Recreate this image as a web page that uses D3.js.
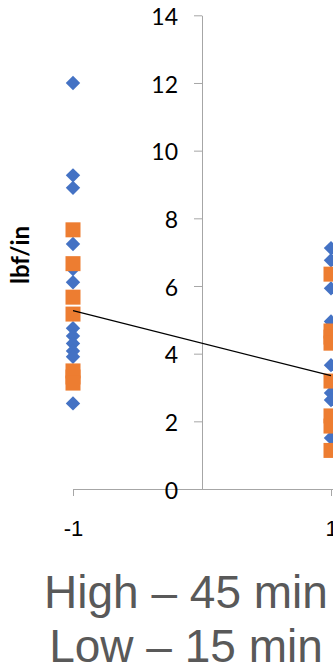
<!DOCTYPE html>
<html>
<head>
<meta charset="utf-8">
<script src="https://d3js.org/d3.v7.min.js"></script>
<style>
    body { margin: 0; background: #fff; overflow: hidden; }
    .y-axis text { font-family: Lato, "Open Sans", sans-serif; font-size: 23px; fill: #000; }
    .x-axis text { font-family: "Liberation Sans", Arial, sans-serif; font-size: 22px; fill: #000; }
    .axis path, .axis line { stroke: #a6a6a6; }
    .axis-title { font-family: Lato, "Open Sans", sans-serif; font-weight: bold; font-size: 24px; fill: #000; }
    .factor-label { font-family: "Liberation Sans", Arial, sans-serif; font-size: 46px; fill: #595959; }
</style>
</head>
<body>
<div id="vis"></div>
<script>
const width = 333, height = 669;

// Data (x = coded factor level, -1 / 1)
const levels = [-1, 1];
const blueLeft = [12.0, 9.27, 8.9, 7.24, 6.5, 6.11, 4.75, 4.52, 4.30, 4.08, 3.91, 2.53];
const blueRight = [7.12, 6.76, 5.93, 4.95, 3.66, 2.84, 2.63, 1.51];
const orangeLeft = [7.66, 6.66, 5.67, 5.17, 3.49, 3.31, 3.13];
const orangeRight = [6.35, 4.67, 4.49, 4.31, 3.19, 2.16, 1.86, 1.14];
const trendValues = [5.27, 3.35];
const yTicks = [0, 2, 4, 6, 8, 10, 12, 14];
const xTicks = [-1, 1];
const yTitle = "lbf/in";
const factorLines = ["High \u2013 45 min", "Low \u2013 15 min"];

const svg = d3.select("#vis")
    .append("svg")
    .attr("width", width)
    .attr("height", height);

const x = d3.scaleLinear().domain([-1, 1]).range([73, 331]);
const y = d3.scaleLinear().domain([0, 14]).range([489, 15.3]);

// x axis along y = 0
svg.append("g")
    .attr("class", "axis x-axis")
    .attr("transform", `translate(0,${y(0)})`)
    .call(d3.axisBottom(x).tickValues(xTicks).tickSize(7).tickSizeOuter(0).tickPadding(24)
        .tickFormat(d => String(d)))
    .call(g => g.select(".domain").attr("d", `M${x(-1)},0.5H${width + 10}`));

// y axis crossing at x = 0
svg.append("g")
    .attr("class", "axis y-axis")
    .attr("transform", `translate(${x(0)},0)`)
    .call(d3.axisLeft(y).tickValues(yTicks).tickSize(8).tickSizeOuter(0).tickPadding(16))
    .call(g => g.selectAll("text").attr("dy", "0.4em"));

svg.append("text")
    .attr("class", "axis-title")
    .attr("transform", "translate(29,255) rotate(-90)")
    .attr("text-anchor", "middle")
    .text(yTitle);

const toPoints = (vals, lvl) => vals.map(v => ({ x: lvl, y: v }));
const bluePts = toPoints(blueLeft, levels[0]).concat(toPoints(blueRight, levels[1]));
const orangePts = toPoints(orangeLeft, levels[0]).concat(toPoints(orangeRight, levels[1]));

// blue diamonds
svg.append("g").selectAll("path")
    .data(bluePts)
    .join("path")
    .attr("d", d3.symbol().type(d3.symbolSquare).size(104))
    .attr("transform", d => `translate(${x(d.x)},${y(d.y)}) rotate(45)`)
    .attr("fill", "#4472c4");

// orange squares
svg.append("g").selectAll("path")
    .data(orangePts)
    .join("path")
    .attr("d", d3.symbol().type(d3.symbolSquare).size(225))
    .attr("transform", d => `translate(${x(d.x)},${y(d.y)})`)
    .attr("fill", "#ed7d31");

// line between level means
svg.append("path")
    .datum(levels.map((l, i) => ({ x: l, y: trendValues[i] })))
    .attr("fill", "none")
    .attr("stroke", "#000")
    .attr("stroke-width", 1.2)
    .attr("d", d3.line().x(d => x(d.x)).y(d => y(d.y)));

svg.selectAll(".factor-label")
    .data(factorLines)
    .join("text")
    .attr("class", "factor-label")
    .attr("x", 186)
    .attr("y", (d, i) => 608 + i * 54)
    .attr("text-anchor", "middle")
    .text(d => d);
</script>
</body>
</html>
